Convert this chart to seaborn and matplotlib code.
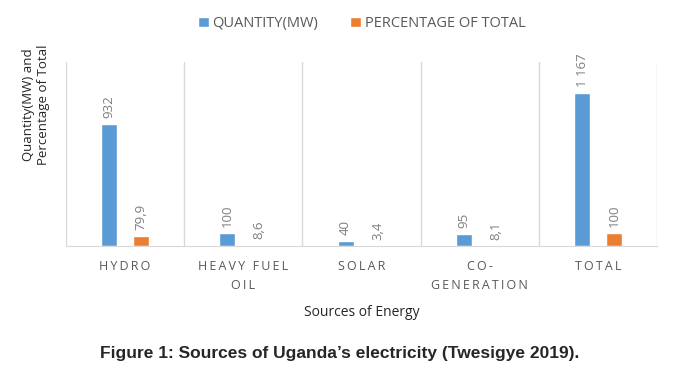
import matplotlib
matplotlib.use("Agg")
import matplotlib.pyplot as plt
import seaborn as sns
import pandas as pd

sources = ["HYDRO", "HEAVY FUEL\nOIL", "SOLAR", "CO-\nGENERATION", "TOTAL"]
quantity = [932, 100, 40, 95, 1167]
percentage = [79.9, 8.6, 3.4, 8.1, 100]
quantity_labels = ["932", "100", "40", "95", "1 167"]
percentage_labels = ["79,9", "8,6", "3,4", "8,1", "100"]
series = ["QUANTITY(MW)", "PERCENTAGE OF TOTAL"]
colors = ["#5B9BD5", "#ED7D31"]

df = pd.DataFrame({
    "source": sources * 2,
    "value": quantity + percentage,
    "series": [series[0]] * 5 + [series[1]] * 5,
})

sns.set_style("white")
plt.rcParams['font.family'] = ['Open Sans', 'DejaVu Sans']

fig = plt.figure(figsize=(6.79, 3.73), dpi=100)
ax = fig.add_axes([0.097, 0.340, 0.871, 0.494])

sns.barplot(data=df, x="source", y="value", hue="series", palette=colors,
            width=0.54, gap=0.5, ax=ax, legend=True, saturation=1)

ax.set_ylim(0, 1400)
ax.set_xlim(-0.5, 4.5)
ax.set_yticks([])

# vertical separators between categories
for x in [-0.5, 0.5, 1.5, 2.5, 3.5, 4.5]:
    ax.axvline(x, color="#d9d9d9", lw=1, zorder=0)

for s in ["top", "right", "left"]:
    ax.spines[s].set_visible(False)
ax.spines["bottom"].set_color("#d9d9d9")

# data labels
for cont, labels in zip(ax.containers, [quantity_labels, percentage_labels]):
    ax.bar_label(cont, labels=labels, rotation=90, padding=4,
                 color="#7f7f7f", fontsize=9.5)

ax.set_xticks(range(5))
ax.set_xticklabels(["\u2009".join(list(s)).replace("\u2009\n\u2009", "\n") for s in sources],
                   color="#595959", fontsize=9, linespacing=1.6)
ax.tick_params(axis="x", length=0, pad=10)

ax.set_xlabel("Sources of Energy", fontsize=10, color="#262626", labelpad=9)
ax.set_ylabel("Quantity(MW) and\nPercentage of Total", fontsize=9.5,
              color="#262626")
ax.yaxis.set_label_coords(-0.027, 0.766)

leg = ax.legend(loc="upper center", bbox_to_anchor=(0.5, 1.32), ncol=2,
                frameon=False, fontsize=10.5, handlelength=0.75, handleheight=0.75,
                columnspacing=2.2, handletextpad=0.25)
for t in leg.get_texts():
    t.set_color("#595959")

fig.text(0.5, 0.04, "Figure 1: Sources of Uganda\u2019s electricity (Twesigye 2019).",
         ha="center", fontsize=12.5, fontweight="bold",
         family=["Liberation Sans", "DejaVu Sans"])

fig.savefig("out.png", dpi=100)
